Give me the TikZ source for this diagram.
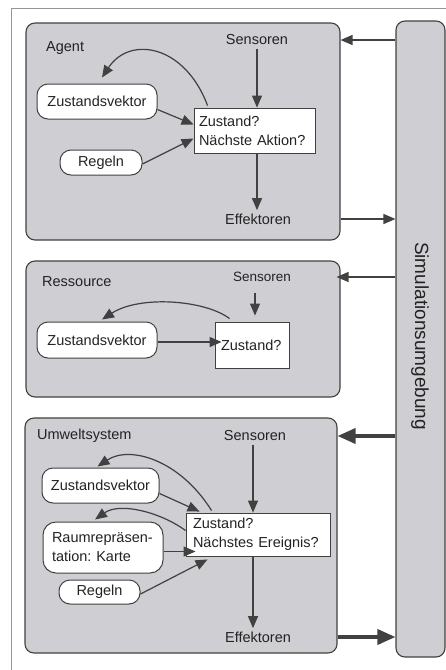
\documentclass[tikz,border=0pt]{standalone}
\usepackage{fontspec}
\setmainfont{Liberation Sans}
\usetikzlibrary{arrows.meta,calc}
\definecolor{panel}{RGB}{206,206,211}
\definecolor{edge}{RGB}{65,65,65}
\definecolor{txt}{RGB}{35,35,35}
\definecolor{framec}{RGB}{150,150,150}
\frenchspacing
\begin{document}
\begin{tikzpicture}[x=1pt,y=-1pt,
  every node/.style={font=\fontsize{14.5}{19}\selectfont, text=txt},
  panelbox/.style={draw=edge, fill=panel, line width=1.1pt, rounded corners=9pt, inner sep=0pt},
  pill/.style={draw=edge, fill=white, line width=1pt, rounded corners=11pt, inner sep=0pt},
  qbox/.style={draw=edge, fill=white, line width=0.9pt, inner ysep=0pt},
  lbl/.style={anchor=west, inner sep=0pt},
  arr/.style={draw=edge, line width=1.2pt, -{Triangle[length=12pt,width=10pt]}},
  bigarr/.style={draw=edge, line width=3.5pt, -{Triangle[length=18pt,width=15pt]}},
]
\useasboundingbox (0,0) rectangle (446,670);
\draw[framec, line width=1pt] (11,670) -- (11,8) -- (446,8);

% simulation environment
\node[panelbox, minimum width=49pt, minimum height=636pt] (sim) at (420.5,339) {};
\node[rotate=-90, font=\fontsize{19}{22}\selectfont] (simlabel) at (420,336) {Simulationsumgebung};

% ---------------- Agent ----------------
\node[panelbox, minimum width=314pt, minimum height=217pt] (agent) at (183,131.5) {};
\node[lbl] (agentlbl) at (46,48) {Agent};
\node (sensA) at (257,40) {Sensoren};
\node[qbox, minimum height=45pt, inner xsep=5pt, text width=111pt, align=left] (qA) at (254.5,130.5) {Zustand?\\Nächste Aktion?};
\node[pill, minimum width=120pt, minimum height=35pt] (zvA) at (97,101.5) {Zustandsvektor};
\node[pill, minimum width=82pt, minimum height=25pt] (regA) at (101,162.5) {Regeln};
\node (effA) at (258,219) {Effektoren};
\draw[arr] (sensA.south) -- (sensA.south |- qA.north);
\draw[arr] (qA.south -| sensA.south) -- (effA.north -| sensA.south);
\draw[arr] ($(qA.north west)+(14,-2)$) .. controls (185,45) and (130,35) .. ($(zvA.north)+(5,-6)$);
\draw[arr] ($(zvA.east)+(0,8)$) -- ($(qA.west)+(0,-6)$);
\draw[arr] ($(regA.east)+(0,1.5)$) -- ($(qA.west)+(0,8)$);
\draw[arr] (sim.west |- sensA) -- (agent.east |- sensA);
\draw[arr] (agent.east |- effA) -- (sim.west |- effA);

% ---------------- Ressource ----------------
\node[panelbox, minimum width=314pt, minimum height=136pt] (res) at (183,329) {};
\node[lbl] (reslbl) at (42,282) {Ressource};
\node[font=\fontsize{13.5}{16}\selectfont] (sensR) at (262,277) {Sensoren};
\node[qbox, minimum height=46pt, inner xsep=6pt, text width=62pt, align=left] (qR) at (252,345) {Zustand?};
\node[pill, minimum width=120pt, minimum height=36pt] (zvR) at (97,340) {Zustandsvektor};
\draw[arr] ($(qR.north)+(3,-29)$) -- ($(qR.north)+(3,-6)$);
\draw[arr] ($(zvR.east)+(0,2)$) -- ($(qR.west)+(7,-3)$);
\draw[arr] ($(qR.north west)+(15,-3)$) .. controls (205,300) and (140,295) .. ($(zvR.north)+(5,-2)$);
\draw[arr] (sim.west |- sensR) -- ($(res.east |- sensR)+(-4,0)$);

% ---------------- Umweltsystem ----------------
\node[panelbox, minimum width=312pt, minimum height=235pt] (umw) at (181,535.5) {};
\node[lbl] (umwlbl) at (37,436) {Umweltsystem};
\node (sensU) at (255,436) {Sensoren};
\node[qbox, minimum height=43pt, inner xsep=7pt, text width=130pt, align=left] (qU) at (258,534.5) {Zustand?\\Nächstes Ereignis?};
\node[pill, minimum width=117pt, minimum height=35pt] (zvU) at (100.5,485.5) {Zustandsvektor};
\node[pill, minimum width=120pt, minimum height=51pt, inner xsep=9pt, text width=102pt, align=left, rounded corners=13pt] (raum) at (103,547.5) {Raumrepräsen-\\tation: Karte};
\node[pill, minimum width=81pt, minimum height=24pt] (regU) at (99.5,592) {Regeln};
\node (effU) at (258,637) {Effektoren};
\draw[arr] ($(sensU.south)+(-2,0)$) -- ($(sensU.south |- qU.north)+(-2,0)$);
\draw[arr] ($(qU.south)+(-5,0)$) -- ($(effU.north)+(-5,0)$);
\draw[arr] ($(qU.north west)+(26,-2)$) .. controls (180,460) and (130,445) .. ($(zvU.north)+(-3,-1)$);
\draw[arr] ($(qU.west)+(0,-4)$) .. controls (160,512) and (120,502) .. ($(raum.north)+(-8,-2)$);
\draw[arr] ($(zvU.east)+(0,8)$) -- ($(qU.north west)+(14,-1)$);
\draw[arr] ($(raum.east)+(0,4)$) -- ($(qU.west)+(10,17)$);
\draw[arr] ($(regU.east)+(0,2)$) -- ($(qU.south west)+(22,3)$);
\draw[bigarr] (sim.west |- sensU) -- (umw.east |- sensU);
\draw[bigarr] (umw.east |- effU) -- (sim.west |- effU);
\end{tikzpicture}
\end{document}
